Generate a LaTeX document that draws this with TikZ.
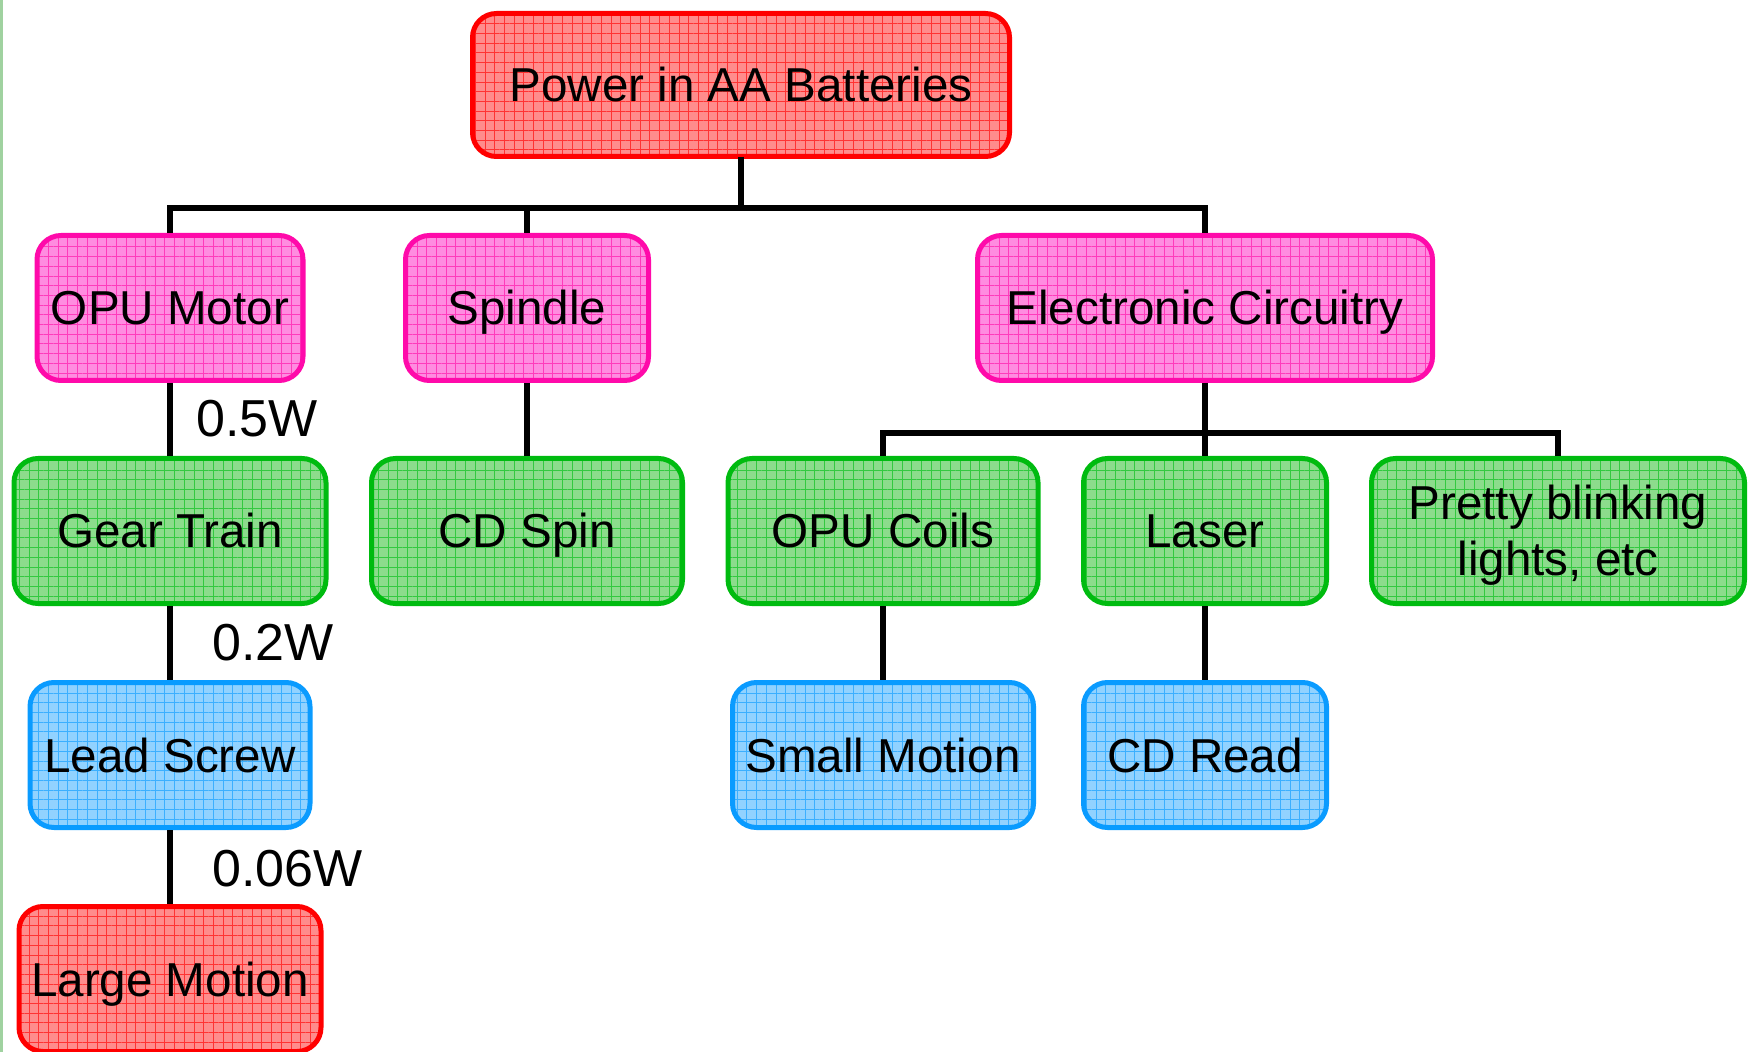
\documentclass[tikz,border=0pt]{standalone}
\usepackage{fontspec}
\setmainfont{Liberation Sans}
\usetikzlibrary{patterns.meta}
\definecolor{rB}{HTML}{FF0000}\definecolor{rF}{HTML}{FF8C8C}
\definecolor{mB}{HTML}{FF0AAA}\definecolor{mF}{HTML}{FF8CE0}
\definecolor{gB}{HTML}{00BB10}\definecolor{gF}{HTML}{8CDC8C}
\definecolor{bB}{HTML}{0A9BFF}\definecolor{bF}{HTML}{8CCDFF}
\definecolor{stripe}{HTML}{A0D2A0}
\tikzset{
  box/.style 2 args={draw=#1, line width=2.5pt, rounded corners=12pt,
    preaction={fill=#2}, pattern={Hatch[angle=0,distance=4.85pt,line width=0.45pt]},
    pattern color=#1!80, inner sep=0pt, align=center,
    text height=17pt, text depth=0pt,
    font=\fontsize{23.8}{28}\selectfont},
  redbox/.style={box={rB}{rF}},
  magbox/.style={box={mB}{mF}},
  grnbox/.style={box={gB}{gF}},
  blubox/.style={box={bB}{bB!45!white}},
  conn/.style={line width=3.2pt},
  lbl/.style={anchor=west, inner sep=0pt, font=\fontsize{26}{30}\selectfont}
}
\begin{document}
\begin{tikzpicture}[x=0.5pt,y=-0.5pt]
\useasboundingbox (0,0) rectangle (1754,1052);
\fill[stripe] (0,0) rectangle (3,1052);
% nodes
\node[redbox, minimum width=268.5pt, minimum height=71.5pt] (top) at (741,85) {Power in AA Batteries};
\node[magbox, minimum width=133pt, minimum height=72.5pt] (opu) at (170,308) {OPU Motor};
\node[magbox, minimum width=121.5pt, minimum height=72.5pt] (spindle) at (527,308) {Spindle};
\node[magbox, minimum width=227.5pt, minimum height=72.5pt] (elec) at (1205,308) {Electronic Circuitry};
\node[grnbox, minimum width=156pt, minimum height=72.5pt] (gear) at (170,531) {Gear Train};
\node[grnbox, minimum width=155.5pt, minimum height=72.5pt] (cdspin) at (527,531) {CD Spin};
\node[grnbox, minimum width=155pt, minimum height=72.5pt] (coils) at (883,531) {OPU Coils};
\node[grnbox, minimum width=121.5pt, minimum height=72.5pt] (laser) at (1205,531) {Laser};
\node[grnbox, text height=, text depth=, minimum width=186.5pt, minimum height=72.5pt] (pretty) at (1558,531) {\rule{0pt}{21.5pt}Pretty blinking\\lights, etc};
\node[blubox, minimum width=140pt, minimum height=72.5pt] (lead) at (170,755) {Lead Screw};
\node[blubox, minimum width=150.5pt, minimum height=72.5pt] (small) at (883,755) {Small Motion};
\node[blubox, minimum width=121.5pt, minimum height=72.5pt] (cdread) at (1205,755) {CD Read};
\node[redbox, minimum width=151pt, minimum height=72.5pt] (large) at (170,979) {Large Motion};
% labels
\node[lbl] (w1) at (196,419) {0.5W};
\node[lbl] (w2) at (212,643) {0.2W};
\node[lbl] (w3) at (212,869) {0.06W};
% connectors
\coordinate (j1) at (741,208);
\coordinate (j2) at (1205,433);
\draw[conn] (top.south) -- (j1);
\draw[conn] (opu.north) |- (j1) -| (elec.north);
\draw[conn] (spindle.north) -- (spindle.north |- j1);
\draw[conn] (opu.south) -- (gear.north);
\draw[conn] (gear.south) -- (lead.north);
\draw[conn] (lead.south) -- (large.north);
\draw[conn] (spindle.south) -- (cdspin.north);
\draw[conn] (elec.south) -- (laser.north);
\draw[conn] (coils.north) |- (j2) -| (pretty.north);
\draw[conn] (coils.south) -- (small.north);
\draw[conn] (laser.south) -- (cdread.north);
\end{tikzpicture}
\end{document}
